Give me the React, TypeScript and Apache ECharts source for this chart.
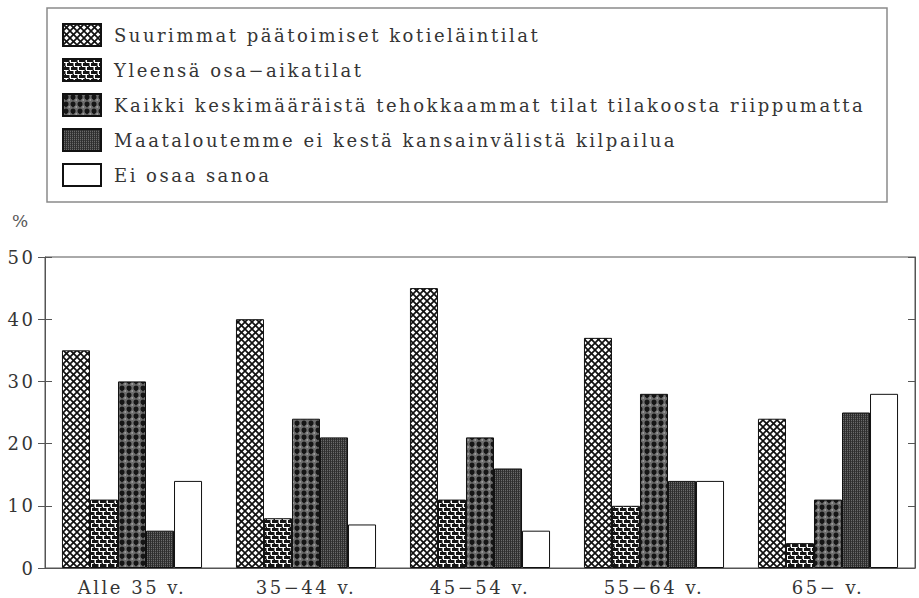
import React, { useEffect, useRef } from "react";
import * as echarts from "echarts";

const categories = ["Alle 35 v.", "35−44 v.", "45−54 v.", "55−64 v.", "65− v."];
const seriesNames = [
  "Suurimmat päätoimiset kotieläintilat",
  "Yleensä osa−aikatilat",
  "Kaikki keskimääräistä tehokkaammat tilat tilakoosta riippumatta",
  "Maataloutemme ei kestä kansainvälistä kilpailua",
  "Ei osaa sanoa",
];
const suurimmat = [35, 40, 45, 37, 24];
const osaAika = [11, 8, 11, 10, 4];
const tehokkaat = [30, 24, 21, 28, 11];
const eiKesta = [6, 21, 16, 14, 25];
const eiOsaa = [14, 7, 6, 14, 28];
const yTicks = [0, 10, 20, 30, 40, 50];

const FONT = "'DejaVu Serif', serif";
const FS = 18;

function measure(text: string, size: number) {
  const cv = document.createElement("canvas");
  const ctx = cv.getContext("2d")!;
  ctx.font = `${size}px ${FONT}`;
  return ctx.measureText(text).width;
}

function makeTile(w: number, h: number, draw: (c: CanvasRenderingContext2D) => void) {
  const cv = document.createElement("canvas");
  cv.width = w;
  cv.height = h;
  const ctx = cv.getContext("2d")!;
  draw(ctx);
  return { image: cv, repeat: "repeat" } as any;
}

function crossHatch() {
  const s = 7;
  return makeTile(s, s, (c) => {
    c.fillStyle = "#fff";
    c.fillRect(0, 0, s, s);
    c.strokeStyle = "#111";
    c.lineWidth = 1.7;
    for (const o of [-s, 0, s]) {
      c.beginPath();
      c.moveTo(o, 0);
      c.lineTo(o + s, s);
      c.stroke();
      c.beginPath();
      c.moveTo(o + s, 0);
      c.lineTo(o, s);
      c.stroke();
    }
  });
}

function brick() {
  return makeTile(8, 8, (c) => {
    c.fillStyle = "#fff";
    c.fillRect(0, 0, 8, 8);
    c.fillStyle = "#151515";
    c.fillRect(0, 0, 6.5, 3);
    c.fillRect(4, 4, 4, 3);
    c.fillRect(0, 4, 2.5, 3);
    c.fillRect(5.5, 3, 1.5, 1);
    c.fillRect(1.5, 7, 1.5, 1);
  });
}

function blobs() {
  return makeTile(7, 7, (c) => {
    c.fillStyle = "#6e6e6e";
    c.fillRect(0, 0, 7, 7);
    c.fillStyle = "#9a9a9a";
    c.fillRect(5.5, 5, 1.5, 2);
    c.fillStyle = "#151515";
    c.beginPath();
    c.arc(3, 3, 2.5, 0, Math.PI * 2);
    c.fill();
    c.beginPath();
    c.moveTo(1.5, 4.5);
    c.lineTo(4.5, 4.5);
    c.lineTo(3, 6.8);
    c.closePath();
    c.fill();
  });
}

function fineStripes() {
  return makeTile(2, 2, (c) => {
    c.fillStyle = "#6a6a6a";
    c.fillRect(0, 0, 2, 2);
    c.fillStyle = "#2e2e2e";
    c.fillRect(0, 0, 1, 2);
    c.fillStyle = "#3e3e3e";
    c.fillRect(1, 1, 1, 1);
  });
}

export default function App() {
  const ref = useRef<HTMLDivElement>(null);
  const longest = seriesNames[2];
  const wLong = typeof document !== "undefined" ? measure(longest, FS) : 620;
  const ls = Math.max(0, (749 - wLong) / (longest.length - 1));

  useEffect(() => {
    if (!ref.current) return;
    const chart = echarts.init(ref.current, null, { renderer: "svg" });
    const fills = [crossHatch(), brick(), blobs(), fineStripes(), "#ffffff"];
    const values = [suurimmat, osaAika, tehokkaat, eiKesta, eiOsaa];
    const axisColor = "#555";
    const textColor = "#353535";
    chart.setOption({
      animation: false,
      backgroundColor: "#fff",
      grid: {
        left: 45,
        right: 4,
        top: 257,
        bottom: 30,
        show: true,
        borderColor: axisColor,
        borderWidth: 1,
        backgroundColor: "transparent",
      },
      legend: {
        orient: "vertical",
        left: 47,
        top: 8,
        padding: [15, Math.max(5, 773 - wLong), 15, 15],
        itemWidth: 38,
        itemHeight: 22,
        itemGap: 11,
        icon: "rect",
        selectedMode: false,
        borderColor: "#8a8a8a",
        borderWidth: 1.5,
        textStyle: {
          fontFamily: FONT,
          fontSize: FS,
          lineHeight: 22,
          color: textColor,
          padding: [0, 0, 0, 8],
        },
        data: seriesNames,
      },
      graphic: [
        {
          type: "text",
          left: 12,
          top: 212,
          style: { text: "%", font: `17px ${FONT}`, fill: "#555" },
        },
      ],
      xAxis: [
        {
          type: "category",
          data: categories,
          axisTick: { show: false },
          axisLine: { show: true, lineStyle: { color: axisColor, width: 1 } },
          axisLabel: {
            fontFamily: FONT,
            fontSize: 18,
            color: textColor,
            margin: 10,
          },
        },
      ],
      yAxis: [
        {
          type: "value",
          position: "left",
          min: 0,
          max: 50,
          interval: 10,
          splitLine: { show: false },
          axisLine: { show: true, lineStyle: { color: axisColor } },
          axisTick: { show: true, inside: false, length: 7, lineStyle: { color: axisColor } },
          axisLabel: {
            fontFamily: FONT,
            fontSize: 18,
            color: textColor,
            margin: Math.max(2, 12 - ls),
            formatter: (v: number) => (yTicks.includes(v) ? String(v) : ""),
          },
        },
        {
          type: "value",
          position: "left",
          min: 0,
          max: 50,
          interval: 10,
          splitLine: { show: false },
          axisLine: { show: false },
          axisTick: { show: true, inside: true, length: 7, lineStyle: { color: axisColor } },
          axisLabel: { show: false },
        },
        {
          type: "value",
          position: "right",
          min: 0,
          max: 50,
          interval: 10,
          splitLine: { show: false },
          axisLine: { show: true, lineStyle: { color: axisColor } },
          axisTick: { show: true, inside: true, length: 7, lineStyle: { color: axisColor } },
          axisLabel: { show: false },
        },
      ],
      series: seriesNames.map((name, i) => ({
        name,
        type: "bar",
        yAxisIndex: 0,
        data: values[i],
        barGap: "0%",
        barCategoryGap: "19.5%",
        itemStyle: {
          color: fills[i],
          borderColor: "#111",
          borderWidth: 1,
        },
      })),
    });
    return () => chart.dispose();
  }, []);
  return (
    <>
      <style>{`#chart-box svg text { letter-spacing: ${ls.toFixed(2)}px; }`}</style>
      <div
        id="chart-box"
        ref={ref}
        style={{ width: 919, height: 598, position: "absolute", left: 0, top: 0 }}
      />
    </>
  );
}
